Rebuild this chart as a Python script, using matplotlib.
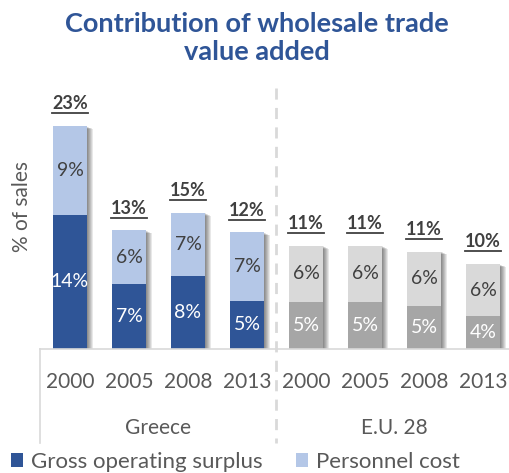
#!/usr/bin/env python3

import matplotlib
matplotlib.use('Agg')
import matplotlib.pyplot as plt
from matplotlib.patches import Patch
from matplotlib.lines import Line2D

plt.rcParams['font.family'] = ['Lato', 'DejaVu Sans']

# data (% of sales)
years = ['2000', '2005', '2008', '2013', '2000', '2005', '2008', '2013']
groups = ['Greece', 'E.U. 28']
gross_surplus = [13.9, 6.7, 7.6, 5.0, 4.9, 4.9, 4.5, 3.4]
personnel_cost = [9.2, 5.6, 6.5, 7.1, 5.8, 5.8, 5.6, 5.4]
surplus_labels = ['14%', '7%', '8%', '5%', '5%', '5%', '5%', '4%']
personnel_labels = ['9%', '6%', '7%', '7%', '6%', '6%', '6%', '6%']
total_labels = ['23%', '13%', '15%', '12%', '11%', '11%', '11%', '10%']

W, H = 510, 473
BASE_PX, TOP_PX = 349, 80   # pixel rows of plot bottom / top
LEFT_PX, CAT_PX = 40.5, 59.0

dark = ['#2F5597'] * 4 + ['#A6A6A6'] * 4
light = ['#B4C7E7'] * 4 + ['#D9D9D9'] * 4
txt_grey = '#404040'
axis_grey = '#D9D9D9'

fig = plt.figure(figsize=(W / 100, H / 100), dpi=100)
ax = fig.add_axes([LEFT_PX / W, (H - BASE_PX) / H, CAT_PX * 8 / W, (BASE_PX - TOP_PX) / H])
px_per_pct = 9.65
ax.set_ylim(0, (BASE_PX - TOP_PX) / px_per_pct)
ax.set_xlim(-0.5, 7.5)
ax.axis('off')

def ay(py):
    '''pixel row -> axes fraction'''
    return (BASE_PX - py) / (BASE_PX - TOP_PX)

x = list(range(len(years)))
totals = [a + b for a, b in zip(gross_surplus, personnel_cost)]
width = 34 / CAT_PX

# soft shadow on the right side
for k in range(1, 7):
    off = k / CAT_PX
    ax.bar([i + off for i in x], [t - k * 0.05 for t in totals], width=width,
           color='black', alpha=0.09, linewidth=0, zorder=1)

ax.bar(x, gross_surplus, width=width, color=dark, linewidth=0, zorder=2)
ax.bar(x, personnel_cost, width=width, bottom=gross_surplus, color=light, linewidth=0, zorder=2)

for i in x:
    ax.text(i, gross_surplus[i] / 2, surplus_labels[i], ha='center', va='center',
            fontsize=14, color='white', zorder=3)
    ax.text(i, gross_surplus[i] + personnel_cost[i] / 2, personnel_labels[i], ha='center',
            va='center', fontsize=14, color=txt_grey, zorder=3)

tot_texts = []
for i in x:
    t = ax.annotate(total_labels[i], (i, totals[i]), xytext=(0, 16), textcoords='offset points',
                    ha='center', va='center', fontsize=13, fontweight='bold', color=txt_grey)
    tot_texts.append(t)

# category axis
xt = ax.get_xaxis_transform()
for i in x:
    ax.text(i, ay(382), years[i], transform=xt, ha='center', va='center',
            fontsize=15, color='#595959')
ax.text(1.5, ay(428), groups[0], transform=xt, ha='center', va='center', fontsize=15, color='#595959')
ax.text(5.5, ay(428), groups[1], transform=xt, ha='center', va='center', fontsize=15, color='#595959')
ax.plot([-0.5, 7.5], [0, 0], transform=xt, color=axis_grey, lw=1.2, clip_on=False, zorder=4)
ax.plot([-0.5, -0.5], [0, ay(443)], transform=xt, color=axis_grey, lw=1.2, clip_on=False)
ax.plot([3.5, 3.5], [ay(88), ay(443)], transform=xt, color=axis_grey, lw=2,
        linestyle=(0, (4, 3)), clip_on=False, zorder=0)

fig.text(22 / W, 1 - 206 / H, '% of sales', rotation=90, ha='center', va='center',
         fontsize=15, color='#595959')
fig.text(257 / W, 1 - 38 / H, 'Contribution of wholesale trade\nvalue added', ha='center',
         va='center', fontsize=19.5, fontweight='bold', color='#2F5597', linespacing=1.25)

handles = [Patch(facecolor='#2F5597', label='Gross operating surplus'),
           Patch(facecolor='#B4C7E7', label='Personnel cost')]
fig.legend(handles=handles, loc='center left', bbox_to_anchor=(11 / W, 1 - 462 / H), ncol=2,
           frameon=False, fontsize=16, handlelength=0.55, handleheight=0.55, handletextpad=0.35,
           columnspacing=1.5, labelcolor='#595959', borderaxespad=0, borderpad=0)

# underline the totals
fig.canvas.draw()
for t in tot_texts:
    bb = t.get_window_extent()
    y = (bb.y0 - 1) / H
    fig.add_artist(Line2D([bb.x0 / W, bb.x1 / W], [y, y], color=txt_grey, lw=1.3))

fig.savefig('out.png', dpi=100)
